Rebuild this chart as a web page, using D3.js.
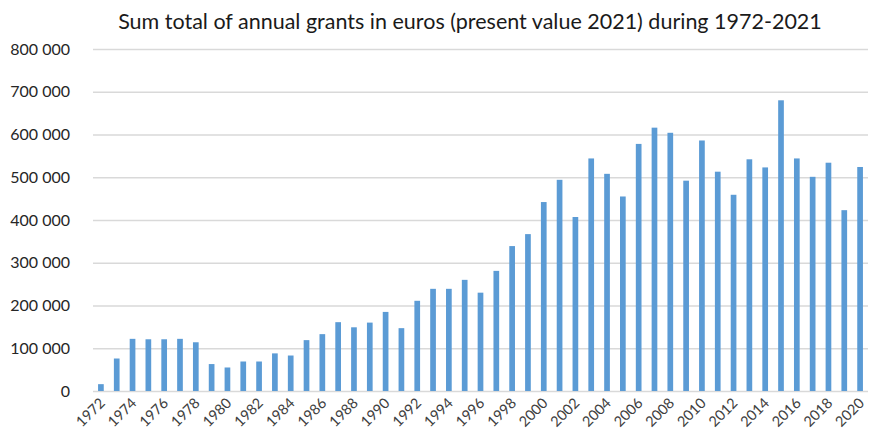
<!DOCTYPE html>
<html><head><meta charset="utf-8">
<script src="https://cdn.jsdelivr.net/npm/d3@7"></script>
<style>body{margin:0;background:#fff}svg{display:block}</style>
</head><body>
<svg id="c" width="872" height="434"></svg>
<script>
const years = d3.range(1972, 2021).map(String);
const values = [16000, 76000, 122000, 121000, 121000, 122000, 114000, 63000, 55000, 69000,
  69000, 88000, 83000, 119000, 133000, 161000, 149000, 160000, 185000, 147000,
  211000, 239000, 239000, 260000, 230000, 281000, 339000, 367000, 442000, 494000,
  407000, 544000, 508000, 455000, 578000, 616000, 604000, 492000, 586000, 513000,
  459000, 542000, 523000, 680000, 544000, 501000, 534000, 423000, 524000];
const yTicks = [0, 100000, 200000, 300000, 400000, 500000, 600000, 700000, 800000];
const xLabels = years.filter((d, i) => i % 2 === 0);
const title = "Sum total of annual grants in euros (present value 2021) during 1972-2021";

const svg = d3.select("#c");
const m = {left: 93, right: 868, top: 49, bottom: 391};
const font = "Lato, 'Open Sans', sans-serif";

const x = d3.scaleBand().domain(years).range([m.left, m.right]).paddingInner(0.64).paddingOuter(0.32);
const y = d3.scaleLinear().domain([0, 800000]).range([m.bottom, m.top]);

svg.append("text").attr("x", 470).attr("y", 29).attr("text-anchor", "middle")
  .attr("font-family", font).attr("font-size", 21.5).attr("fill", "#1a1a1a").text(title);

const yAxis = svg.append("g").attr("transform", `translate(${m.left},0)`)
  .call(d3.axisLeft(y).tickValues(yTicks).tickSize(-(m.right - m.left)).tickPadding(23)
    .tickFormat(v => d3.format(",")(v).replace(/,/g, " ")));
yAxis.select(".domain").remove();
yAxis.selectAll(".tick line").attr("stroke", "#d9d9d9").attr("stroke-width", 1.3);
yAxis.selectAll(".tick text").attr("font-family", font).attr("font-size", 16).attr("fill", "#262626");

svg.append("g").selectAll("rect").data(values).join("rect")
  .attr("x", (d, i) => x(years[i])).attr("width", x.bandwidth())
  .attr("y", d => y(d)).attr("height", d => y(0) - y(d)).attr("fill", "#5b9bd5");

const xAxis = svg.append("g").attr("transform", `translate(0,${m.bottom})`)
  .call(d3.axisBottom(x).tickValues(xLabels).tickSize(0).tickPadding(0));
xAxis.select(".domain").remove();
xAxis.selectAll(".tick text").attr("font-family", font).attr("font-size", 14.5).attr("fill", "#404040")
  .attr("text-anchor", "end").attr("dy", 0)
  .attr("transform", "translate(5,13) rotate(-45)");
</script>
</body></html>
